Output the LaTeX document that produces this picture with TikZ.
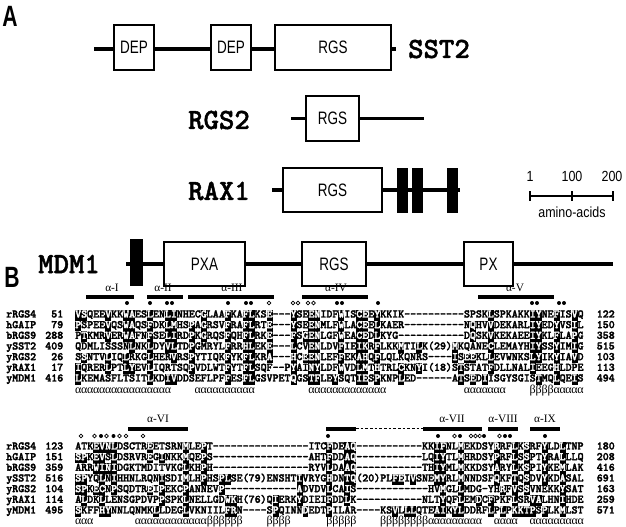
\documentclass[tikz,border=0pt]{standalone}
\usepackage{fontspec}
\newfontfamily\domf{Liberation Sans}[FakeStretch=0.75]
\newfontfamily\scalef{Liberation Sans}[FakeStretch=0.85]
\newfontfamily\labf{Liberation Sans}[FakeStretch=0.72]
\newfontfamily\seriff{Liberation Serif}
\newfontfamily\monob{lmmonolt10-bold.otf}[FakeBold=2.6]
\newfontfamily\monobb{lmmonolt10-bold.otf}[FakeBold=1.5]
\newlength\cw \setlength\cw{4.485pt}
\newcount\repc
\newcommand\rp[2]{\repc=#1\relax\loop\ifnum\repc>0 \makebox[\cw]{#2}\advance\repc by -1\relax\repeat}
\newcommand\hlx[1]{{\fboxsep=0pt\colorbox{black}{\strut\textcolor{white}{#1}}}}
\newcommand\seqfont{\monob\fontsize{8.543pt}{8pt}\selectfont}
\tikzset{
  bb/.style={line width=2.6pt},
  dom/.style={draw, line width=1.3pt, fill=white, inner sep=0pt, font=\domf\fontsize{13.5pt}{14pt}\selectfont},
  tm/.style={fill=black, draw=none, inner sep=0pt},
  plab/.style={font=\monobb\fontsize{22pt}{22pt}\selectfont, inner sep=0pt},
  panel/.style={font=\labf\bfseries\fontsize{22pt}{22pt}\selectfont, inner sep=0pt},
  sclab/.style={font=\scalef\fontsize{11pt}{12pt}\selectfont, inner sep=0pt},
  seq/.style={anchor=west, inner sep=0pt, font=\seqfont, text height=5.6pt, text depth=2.4pt},
  numr/.style={seq, anchor=east},
  hlab/.style={font=\seriff\fontsize{8.5pt}{9pt}\selectfont, inner sep=0pt},
  ss/.style={anchor=west, inner sep=0pt, font=\seriff\fontsize{9pt}{10pt}\selectfont},
}
\begin{document}
\begin{tikzpicture}[x=0.75pt,y=-0.75pt]
\fill[white] (0,0) rectangle (626,526);
\useasboundingbox (0,0) rectangle (626,526);

% ---------------- Panel A ----------------
\node[panel] (lA) at (10,16) {A};

% SST2
\coordinate (sL) at (94,48.8); \coordinate (sR) at (396,48.8);
\draw[bb] (sL) -- (sR);
\node[dom, minimum width=30pt, minimum height=33.75pt] (sdep1) at (134,47.6) {DEP};
\node[dom, minimum width=30pt, minimum height=33.75pt] (sdep2) at (231,47.6) {DEP};
\node[dom, minimum width=87pt, minimum height=33.75pt] (srgs) at (333,47.6) {RGS};
\node[plab] (lsst2) at (439,49) {SST2};

% RGS2
\coordinate (rL) at (291,118.5); \coordinate (rR) at (424,118.5);
\draw[bb] (rL) -- (rR);
\node[dom, minimum width=39.75pt, minimum height=33.75pt] (rrgs) at (332.5,118.5) {RGS};
\node[plab] (lrgs2) at (219,120) {RGS2};

% RAX1
\coordinate (xL) at (272,190); \coordinate (xR) at (460,190);
\draw[bb] (xL) -- (xR);
\node[dom, minimum width=74.25pt, minimum height=33pt] (xrgs) at (332.5,190) {RGS};
\node[tm, minimum width=8.25pt, minimum height=33.75pt] (xtm1) at (402.5,190.5) {};
\node[tm, minimum width=8.25pt, minimum height=33.75pt] (xtm2) at (417.5,190.5) {};
\node[tm, minimum width=8.25pt, minimum height=33.75pt] (xtm3) at (452.5,190.5) {};
\node[plab] (lrax1) at (219,191) {RAX1};

% scale bar
\coordinate (sb1) at (530,196); \coordinate (sb2) at (572,196); \coordinate (sb3) at (613,196);
\draw[line width=1.1pt] (sb1) -- (sb3);
\foreach \c in {sb1,sb2,sb3} \draw[line width=1.1pt] ([yshift=3.4pt]\c) -- ([yshift=-3.4pt]\c);
\node[sclab] (sc1) at (530,176) {1};
\node[sclab] (sc100) at (572,176) {100};
\node[sclab] (sc200) at (612,176) {200};
\node[sclab] (scaa) at (572,212) {amino-acids};

% MDM1
\coordinate (mL) at (126,264); \coordinate (mR) at (613,264);
\draw[bb] (mL) -- (mR);
\node[tm, minimum width=9.75pt, minimum height=35.25pt] (mtm) at (136.5,262.5) {};
\node[dom, minimum width=60.75pt, minimum height=33pt] (mpxa) at (204.5,264) {PXA};
\node[dom, minimum width=48pt, minimum height=33pt] (mrgs) at (334,264) {RGS};
\node[dom, minimum width=36.75pt, minimum height=33pt] (mpx) at (488.5,264) {PX};
\node[plab] (lmdm1) at (69,264) {MDM1};

% ---------------- Panel B ----------------
\node[panel] (lB) at (12,277) {B};

% block 1 helices
\foreach \a/\b in {86/134,147/183,188/274,302/368,478/554} \fill (\a,295) rectangle (\b,299);
\node[hlab] (h1) at (112,288) {α-I};
\node[hlab] (h2) at (163,288) {α-II};
\node[hlab] (h3) at (232,288) {α-III};
\node[hlab] (h4) at (336,288) {α-IV};
\node[hlab] (h5) at (515,288) {α-V};
\foreach \x in {127,150,167,172,228,246,251,337,342,378,532,537,559,564} \fill (\x,303) circle[radius=1.5pt];
\foreach \x in {269,293,298,308,313.5} \draw[line width=0.5pt] (\x,303) circle[radius=1.35pt];

\foreach \i/\nm/\a/\e in {1/rRGS4/51/122,2/hGAIP/79/150,3/bRGS9/288/358,4/ySST2/409/515,5/yRGS2/26/103,6/yRAX1/17/113,7/yMDM1/416/494}{
  \node[seq] (bAn\i) at (6,{315.3+(\i-1)*10.667}) {\nm};
  \node[numr] (bAa\i) at (63.5,{315.3+(\i-1)*10.667}) {\a};
  \node[numr] (bAe\i) at (615,{315.3+(\i-1)*10.667}) {\e};
}
\node[seq] (bAs1) at (75,315.3) {\hlx{VS}QEE\hlx{V}KK\hlx{WA}ES\hlx{L}EN\hlx{LI}NHEC\hlx{G}LAA\hlx{F}KA\hlx{FL}KS\hlx{E}\rp{3}{-}\hlx{Y}SE\hlx{EN}IDF\hlx{W}IS\hlx{CE}E\hlx{Y}KKIK\rp{10}{-}SPSK\hlx{L}SPKAKK\hlx{IY}NE\hlx{F}IS\hlx{V}Q};
\node[seq] (bAs2) at (75,325.97) {\hlx{P}SPEE\hlx{V}QS\hlx{WA}QS\hlx{F}DK\hlx{LM}HS\hlx{P}A\hlx{G}RSV\hlx{F}RA\hlx{FL}RT\hlx{E}\rp{3}{-}\hlx{Y}SE\hlx{EN}MLF\hlx{W}LA\hlx{CE}E\hlx{L}KAER\rp{10}{-}N\hlx{Q}HV\hlx{V}DEKARL\hlx{IY}ED\hlx{Y}VS\hlx{I}L};
\node[seq] (bAs3) at (75,336.63) {P\hlx{T}KMR\hlx{V}ER\hlx{WA}FN\hlx{F}SE\hlx{LI}RD\hlx{P}K\hlx{G}RQS\hlx{F}QH\hlx{FL}RK\hlx{E}\rp{3}{-}\hlx{F}S\hlx{GEN}LGF\hlx{W}EA\hlx{CE}D\hlx{L}KYG\rp{11}{-}D\hlx{Q}SK\hlx{V}KEKAEE\hlx{IY}KL\hlx{F}LA\hlx{P}G};
\node[seq] (bAs4) at (75,347.3) {QDMLISSSN\hlx{L}NK\hlx{L}DY\hlx{VL}TD\hlx{P}GMRYL\hlx{F}RR\hlx{HL}EK\hlx{E}\rp{3}{-}\hlx{L}CV\hlx{EN}LDV\hlx{F}IE\hlx{IK}R\hlx{F}LKK\hlx{M}TI\hlx{L}K(29)\hlx{M}KQANE\hlx{C}LEMAYH\hlx{IY}SS\hlx{Y}IM\hlx{I}G};
\node[seq] (bAs5) at (75,357.97) {S\hlx{S}NTV\hlx{L}IQ\hlx{L}RKG\hlx{L}HER\hlx{V}RS\hlx{P}YTIQK\hlx{F}YK\hlx{FL}KR\hlx{A}\rp{3}{-}\hlx{H}C\hlx{EEN}LEF\hlx{F}EK\hlx{AH}Q\hlx{F}LQLKQNRS\rp{4}{-}\hlx{I}S\hlx{EE}KL\hlx{L}EVWNKS\hlx{LY}IK\hlx{Y}IA\hlx{V}D};
\node[seq] (bAs6) at (75,368.63) {\hlx{I}QRER\hlx{L}PT\hlx{LY}EV\hlx{L}IQRTSQ\hlx{P}VDLWT\hlx{F}YT\hlx{FL}SQF\rp{2}{-}P\hlx{Y}AI\hlx{NY}LDF\hlx{W}VD\hlx{LM}T\hlx{H}TRL\hlx{C}KN\hlx{Y}I(18)S\hlx{T}STAT\hlx{F}DLLNAL\hlx{I}EEG\hlx{H}LDPE};
\node[seq] (bAs7) at (75,379.3) {\hlx{L}KEMASFLTSIT\hlx{L}KD\hlx{IV}DDSEFLPF\hlx{F}ES\hlx{FL}GSVPET\hlx{Q}GS\hlx{TF}LE\hlx{Y}SQT\hlx{IE}S\hlx{P}KNP\hlx{L}ED\rp{6}{-}A\hlx{T}S\hlx{E}D\hlx{I}ISGYSGIS\hlx{T}MQ\hlx{L}QE\hlx{I}S};
\node[ss] (ssA) at (75,391) {\rp{16}{α}\rp{4}{}\rp{10}{α}\rp{9}{}\rp{13}{α}\rp{13}{}\rp{7}{α}\rp{4}{}\rp{4}{β}\rp{5}{α}};

% block 2 helices
\foreach \a/\b in {128/188,326/356,423/482,488/518,530/560} \fill (\a,426.5) rectangle (\b,430.5);
\draw[line width=0.6pt, dash pattern=on 2pt off 1.5pt] (356,428.5) -- (423,428.5);
\node[hlab] (h6) at (158,419) {α-VI};
\node[hlab] (h7) at (452,419) {α-VII};
\node[hlab] (h8) at (503,419) {α-VIII};
\node[hlab] (h9) at (545,419) {α-IX};
\foreach \x in {101,113.5,328,438,460,484,505,510,545} \fill (\x,436) circle[radius=1.5pt];
\foreach \x in {81,94.5,106.5,119.5,126,143,454.5,471,475.5,479.7,499.5} \draw[line width=0.5pt] (\x,436) circle[radius=1.35pt];

\foreach \i/\nm/\a/\e in {1/rRGS4/123/180,2/hGAIP/151/208,3/bRGS9/359/416,4/ySST2/516/691,5/yRGS2/104/163,6/yRAX1/114/259,7/yMDM1/495/571}{
  \node[seq] (bBn\i) at (6,{447.3+(\i-1)*10.667}) {\nm};
  \node[numr] (bBa\i) at (63.5,{447.3+(\i-1)*10.667}) {\a};
  \node[numr] (bBe\i) at (615,{447.3+(\i-1)*10.667}) {\e};
}
\node[seq] (bBs1) at (75,447.3) {ATK\hlx{EVNL}DSCTR\hlx{E}ETSRN\hlx{M}LE\hlx{P}T\rp{16}{-}ITC\hlx{F}DE\hlx{AQ}\rp{11}{-}KK\hlx{IF}NL\hlx{M}EKDSY\hlx{R}RF\hlx{L}K\hlx{S}RF\hlx{Y}LD\hlx{L}TNP};
\node[seq] (bBs2) at (75,457.97) {\hlx{SP}K\hlx{EV}S\hlx{L}DSRVR\hlx{E}G\hlx{I}NKK\hlx{M}QE\hlx{P}S\rp{16}{-}AHT\hlx{F}DD\hlx{AQ}\rp{11}{-}LQ\hlx{IY}TL\hlx{M}HRDSY\hlx{P}RF\hlx{L}S\hlx{S}PT\hlx{Y}RA\hlx{L}LLQ};
\node[seq] (bBs3) at (75,468.63) {ARR\hlx{WINI}DGKTMDITVKG\hlx{L}KH\hlx{P}H\rp{16}{-}RYV\hlx{L}DA\hlx{AQ}\rp{11}{-}TH\hlx{IY}ML\hlx{M}KKDSY\hlx{A}RY\hlx{L}K\hlx{S}PI\hlx{Y}KE\hlx{M}LAK};
\node[seq] (bBs4) at (75,479.3) {\hlx{SP}YQ\hlx{L}N\hlx{I}HHNLRQN\hlx{I}SDI\hlx{M}LH\hlx{P}HS\hlx{PL}SE(79)ENSHT\hlx{I}VRYG\hlx{H}DN\hlx{TQ}(20)PL\hlx{FE}I\hlx{V}SNE\hlx{MY}RL\hlx{M}NNDSF\hlx{Q}KF\hlx{T}Q\hlx{S}DV\hlx{Y}KD\hlx{A}SAL};
\node[seq] (bBs5) at (75,489.97) {\hlx{SP}K\hlx{EC}N\hlx{P}SQDTR\hlx{E}I\hlx{P}EKC\hlx{P}ANNEV\hlx{P}\rp{12}{-}\hlx{A}DVDV\hlx{L}CA\hlx{I}S\rp{12}{-}HV\hlx{M}GL\hlx{L}MDG\rp{1}{-}YH\hlx{R}F\hlx{V}S\hlx{S}VNEKK\hlx{Y}SAT};
\node[seq] (bBs6) at (75,500.63) {A\hlx{L}DK\hlx{L}LENSGPDVP\hlx{P}SPK\hlx{L}NELLGD\hlx{WK}H(76)Q\hlx{I}ERK\hlx{Y}DIEI\hlx{F}DD\hlx{L}K\rp{11}{-}NLT\hlx{Y}QF\hlx{L}EM\hlx{D}C\hlx{F}PKF\hlx{L}SR\hlx{VA}LHN\hlx{I}HDE};
\node[seq] (bBs7) at (75,511.3) {\hlx{S}KFF\hlx{HY}NNLQNMK\hlx{L}LDEG\hlx{L}VKNIIL\hlx{FR}N\rp{4}{-}S\hlx{P}QINN\hlx{D}EDT\hlx{P}ILAR\rp{4}{-}KS\hlx{V}L\hlx{LL}QTE\hlx{AI}K\hlx{YL}DDRF\hlx{L}P\hlx{L}P\hlx{KKTP}S\hlx{P}LK\hlx{M}LST};
\node[ss] (ssB) at (75,522) {\rp{3}{α}\rp{7}{}\rp{12}{α}\rp{6}{β}\rp{4}{}\rp{4}{β}\rp{6}{}\rp{5}{β}\rp{4}{}\rp{8}{β}\rp{9}{α}\rp{2}{}\rp{4}{α}\rp{2}{}\rp{9}{α}};
\end{tikzpicture}
\end{document}
